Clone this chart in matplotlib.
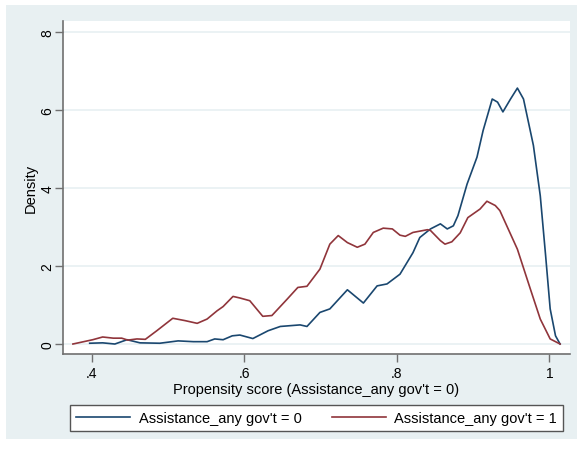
import matplotlib.pyplot as plt
from matplotlib.patches import Rectangle
from matplotlib.ticker import FuncFormatter

# kernel density, Assistance_any gov't = 0 (blue)
x0 = [0.397, 0.414, 0.430, 0.446, 0.463, 0.489, 0.513, 0.533, 0.551, 0.561, 0.572,
      0.584, 0.594, 0.611, 0.631, 0.647, 0.673, 0.682, 0.699, 0.712, 0.735, 0.756,
      0.774, 0.787, 0.804, 0.821, 0.830, 0.844, 0.857, 0.866, 0.874, 0.880, 0.892,
      0.905, 0.913, 0.925, 0.932, 0.939, 0.949, 0.958, 0.966, 0.979, 0.988, 0.995,
      1.001, 1.008, 1.014]
d0 = [0.02, 0.03, 0.00, 0.11, 0.03, 0.02, 0.08, 0.06, 0.06, 0.13, 0.11,
      0.21, 0.23, 0.14, 0.34, 0.45, 0.49, 0.45, 0.81, 0.90, 1.39, 1.05,
      1.49, 1.54, 1.79, 2.34, 2.73, 2.95, 3.08, 2.95, 3.03, 3.29, 4.10,
      4.79, 5.47, 6.28, 6.20, 5.95, 6.28, 6.56, 6.28, 5.09, 3.80, 2.27,
      0.90, 0.21, 0.00]

# kernel density, Assistance_any gov't = 1 (red)
x1 = [0.375, 0.401, 0.414, 0.428, 0.439, 0.447, 0.459, 0.470, 0.485, 0.506, 0.522,
      0.538, 0.551, 0.564, 0.572, 0.585, 0.594, 0.607, 0.624, 0.636, 0.656, 0.670,
      0.682, 0.699, 0.712, 0.723, 0.735, 0.748, 0.758, 0.769, 0.782, 0.794, 0.804,
      0.811, 0.821, 0.840, 0.844, 0.857, 0.863, 0.872, 0.883, 0.893, 0.909, 0.918,
      0.929, 0.935, 0.958, 0.975, 0.988, 1.001, 1.014]
d1 = [0.00, 0.11, 0.18, 0.15, 0.15, 0.10, 0.13, 0.12, 0.34, 0.66, 0.60,
      0.53, 0.64, 0.85, 0.96, 1.22, 1.18, 1.11, 0.71, 0.73, 1.15, 1.45,
      1.48, 1.92, 2.56, 2.78, 2.60, 2.48, 2.56, 2.86, 2.97, 2.95, 2.79,
      2.76, 2.86, 2.93, 2.91, 2.65, 2.56, 2.62, 2.85, 3.24, 3.46, 3.66,
      3.55, 3.42, 2.43, 1.41, 0.64, 0.13, 0.00]

xticks = [0.4, 0.6, 0.8, 1.0]
yticks = [0, 2, 4, 6, 8]

plt.rcParams['font.family'] = ['Liberation Sans', 'DejaVu Sans']
bg = '#E8F0F2'

fig = plt.figure(figsize=(5.77, 4.52), dpi=100)
fig.patches.append(Rectangle((6/577, 12/452), 571/577, 434/452, transform=fig.transFigure,
                             facecolor=bg, edgecolor='none', zorder=-10))

ax = fig.add_axes([63/577, 97/452, 507/577, 333/452])
ax.set_zorder(2)
ax.set_facecolor('white')
ax.plot(x0, d0, color='#1A476F', lw=1.2, label="Assistance_any gov't = 0")
ax.plot(x1, d1, color='#90353B', lw=1.2, label="Assistance_any gov't = 1")

ax.set_xlim(0.362, 1.027)
ax.set_ylim(-0.256, 8.28)
ax.set_xticks(xticks)
ax.set_yticks(yticks)
ax.xaxis.set_major_formatter(FuncFormatter(lambda v, p: '1' if v == 1 else ('%.1f' % v).lstrip('0')))
ax.set_yticklabels([str(t) for t in yticks], rotation=90, va='center')
ax.grid(axis='y', color=bg, lw=1.2)
ax.set_axisbelow(True)
for s in ['top', 'right']:
    ax.spines[s].set_visible(False)
for s in ['left', 'bottom']:
    ax.spines[s].set_color('#707070')
    ax.spines[s].set_linewidth(1.2)
ax.tick_params(length=6, width=1, color='#707070', labelsize=10)
ax.tick_params(axis='y', pad=0)
ax.tick_params(axis='x', pad=3)
ax.set_xlabel("Propensity score (Assistance_any gov't = 0)", fontsize=10.5, labelpad=1)
ax.set_ylabel('Density', fontsize=10.5, labelpad=2)

leg = fig.legend(loc='center', ncol=2, mode='expand', fontsize=10.5, frameon=True, fancybox=False,
                 bbox_to_anchor=(70/577, 19/452, 493/577, 28/452), borderaxespad=0,
                 handlelength=3.7, handletextpad=0.6, edgecolor='#555555', framealpha=1)
leg.get_frame().set_linewidth(1.0)
leg.set_zorder(3)

fig.savefig('out.png', dpi=100)
